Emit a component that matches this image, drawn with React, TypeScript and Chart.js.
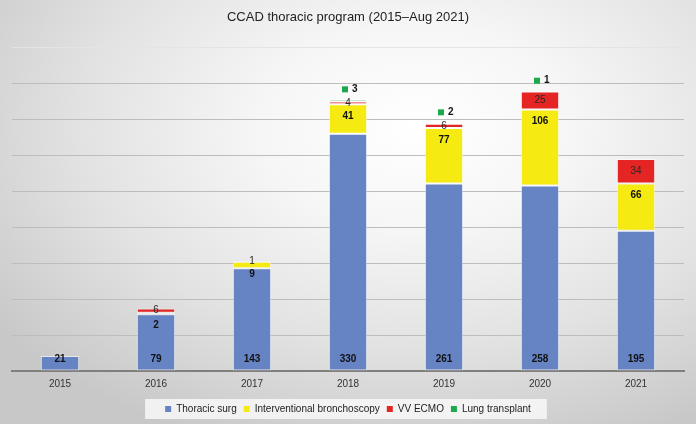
import Chart from "chart.js/auto";
import { useEffect, useRef } from "react";

const years = ["2015", "2016", "2017", "2018", "2019", "2020", "2021"];
const thoracicSurg = [21, 79, 143, 330, 261, 258, 195];
const bronchoscopy = [0, 2, 9, 41, 77, 106, 66];
const vvEcmo = [0, 6, 1, 4, 6, 25, 34];
const lungTransplant = [0, 0, 0, 3, 2, 1, 0];
const yMax = 450;
const yStep = 50;

const FONT = "'Liberation Sans', Arial, sans-serif";
const BLUE = "#6683c3";
const YELLOW = "#f5ea12";
const RED = "#e42523";
const GREEN = "#1ba94c";

// labels: thoracic at the base, bronchoscopy near the top, ECMO centred, transplant above with a key
const segmentLabels = {
  id: "segmentLabels",
  afterDatasetsDraw(chart: any) {
    const { ctx } = chart;
    ctx.save();
    ctx.textBaseline = "middle";
    chart.data.datasets.forEach((ds: any, i: number) => {
      const meta = chart.getDatasetMeta(i);
      meta.data.forEach((bar: any, j: number) => {
        const v = ds.data[j] as number;
        if (!v) return;
        const { x, y, base } = bar.getProps(["x", "y", "base"], true);
        ctx.fillStyle = "#111";
        if (i === 0) {
          ctx.font = `bold 10px ${FONT}`;
          ctx.textAlign = "center";
          ctx.fillText(String(v), x, base - 11);
        } else if (i === 1) {
          ctx.font = `bold 10px ${FONT}`;
          ctx.textAlign = "center";
          ctx.fillText(String(v), x, y + 12);
        } else if (i === 2) {
          ctx.font = `10px ${FONT}`;
          ctx.fillStyle = "#2a2a2a";
          ctx.textAlign = "center";
          ctx.fillText(String(v), x, (y + base) / 2);
        } else {
          ctx.fillStyle = GREEN;
          ctx.fillRect(x - 6, y - 13, 6, 6);
          ctx.fillStyle = "#111";
          ctx.font = `bold 10px ${FONT}`;
          ctx.textAlign = "left";
          ctx.fillText(String(v), x + 4, y - 10);
        }
      });
    });
    ctx.restore();
  },
};

const legendPanel = {
  id: "legendPanel",
  beforeDraw(chart: any) {
    const boxes = chart.legend?.legendHitBoxes;
    if (!boxes || !boxes.length) return;
    const left = Math.min(...boxes.map((b: any) => b.left)) - 20;
    const right = Math.max(...boxes.map((b: any) => b.left + b.width)) + 16;
    const mid = boxes[0].top + boxes[0].height / 2;
    const { ctx } = chart;
    ctx.save();
    ctx.fillStyle = "rgba(248,248,248,0.85)";
    ctx.fillRect(left, mid - 10, right - left, 20);
    ctx.restore();
  },
};

export default function App() {
  const canvasRef = useRef<HTMLCanvasElement | null>(null);

  useEffect(() => {
    const canvas = canvasRef.current;
    if (!canvas) return;

    const barStyle = {
      borderColor: "rgba(255,255,255,0.55)",
      borderWidth: 1,
      borderSkipped: false,
      barPercentage: 0.4,
      categoryPercentage: 1,
    };

    const chart = new Chart(canvas, {
      type: "bar",
      data: {
        labels: years,
        datasets: [
          { label: "Thoracic surg", data: thoracicSurg, backgroundColor: BLUE, ...barStyle },
          { label: "Interventional bronchoscopy", data: bronchoscopy, backgroundColor: YELLOW, ...barStyle },
          { label: "VV ECMO", data: vvEcmo, backgroundColor: RED, ...barStyle },
          { label: "Lung transplant", data: lungTransplant, backgroundColor: GREEN, ...barStyle },
        ],
      },
      options: {
        responsive: false,
        animation: false,
        layout: { padding: { left: 12, right: 12, top: 0, bottom: 0 } },
        plugins: {
          title: {
            display: true,
            text: "CCAD thoracic program (2015–Aug 2021)",
            color: "#222",
            font: { family: FONT, size: 13, weight: "normal" },
            padding: { top: 10, bottom: 22 },
          },
          legend: {
            position: "bottom",
            labels: {
              boxWidth: 6,
              boxHeight: 6,
              padding: 7,
              color: "#222",
              font: { family: FONT, size: 10 },
              generateLabels: (c: any) =>
                Chart.defaults.plugins.legend.labels
                  .generateLabels(c)
                  .map((l: any) => ({ ...l, lineWidth: 0 })),
            },
          },
          tooltip: { enabled: false },
        },
        scales: {
          x: {
            stacked: true,
            grid: { display: false, drawTicks: false },
            border: { display: true, color: "#7f7f7f", width: 2 },
            ticks: {
              color: "#333",
              font: { family: FONT, size: 10 },
              padding: 7,
            },
          },
          y: {
            stacked: true,
            min: 0,
            max: yMax,
            ticks: { display: false, stepSize: yStep },
            border: { display: false },
            grid: {
              drawTicks: false,
              color: (c: any) => (c.tick?.value === yMax ? "#e4e4e4" : "#bdbdbd"),
              lineWidth: 1,
            },
          },
        },
      },
      plugins: [segmentLabels, legendPanel],
    });

    return () => {
      chart.destroy();
    };
  }, []);

  return (
    <div
      style={{
        position: "fixed",
        left: 0,
        top: 0,
        width: 696,
        height: 424,
        background:
          "radial-gradient(ellipse 75% 80% at 60% 30%, #ffffff 0%, #f6f6f6 30%, #e2e2e2 65%, #c8c8c8 100%)",
      }}
    >
      <canvas ref={canvasRef} width={696} height={424} />
    </div>
  );
}
